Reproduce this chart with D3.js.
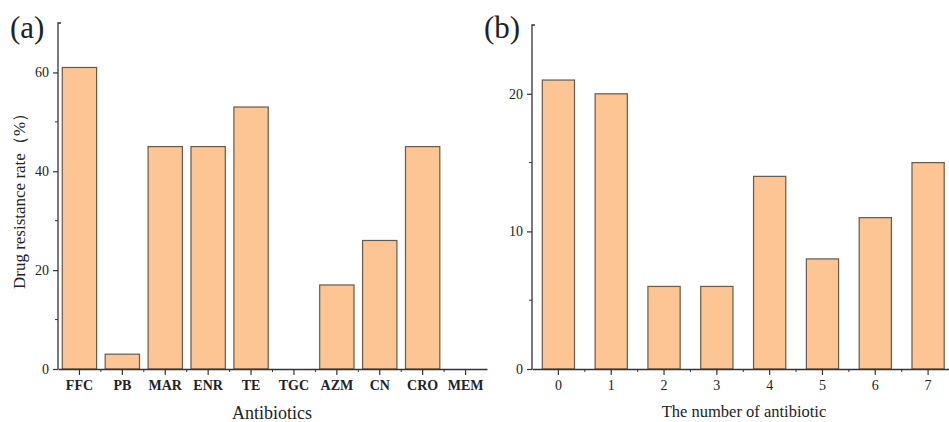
<!DOCTYPE html>
<html><head><meta charset="utf-8">
<script src="https://cdn.jsdelivr.net/npm/d3@7"></script>
<style>
body{margin:0;background:#fff;}
text{font-family:"Liberation Serif","Times New Roman",serif;fill:#222;}
</style></head>
<body>
<svg id="c" width="949" height="422"></svg>
<script>
const antibiotics = ["FFC","PB","MAR","ENR","TE","TGC","AZM","CN","CRO","MEM"];
const resistanceRate = [61,3,45,45,53,0,17,26,45,0];
const yTicksA = [0,20,40,60];
const yMinorA = [10,30,50];

const numberCats = ["0","1","2","3","4","5","6","7"];
const numberValues = [21,20,6,6,14,8,11,15];
const yTicksB = [0,10,20];
const yMinorB = [5,15];

const fillC = "#fdc593", strokeC = "#6a5848", axisC = "#333";
const svg = d3.select("#c");

function panel(opt){
  const g = svg.append("g");
  const x = d3.scaleBand().domain(opt.cats).range([opt.x0, opt.x1]).paddingInner(opt.pad).paddingOuter(opt.pad/2);
  const y = d3.scaleLinear().domain([0, opt.ymax]).range([opt.y0, opt.ytop]);
  g.selectAll("rect").data(opt.vals).enter().append("rect")
    .attr("x",(d,i)=>x(opt.cats[i]))
    .attr("y",d=>y(d))
    .attr("width",x.bandwidth())
    .attr("height",d=>y(0)-y(d))
    .attr("fill",fillC).attr("stroke",strokeC).attr("stroke-width",1.2)
    .style("display",d=>d>0?null:"none");
  const ya = g.append("g").attr("transform",`translate(${opt.x0},0)`)
    .call(d3.axisLeft(y).tickValues(opt.yt).tickSize(5).tickPadding(4).tickFormat(d3.format("d")));
  ya.select(".domain").attr("stroke",axisC).attr("stroke-width",1.3).attr("d",`M0,${opt.y0}V${opt.ytop}h3`);
  ya.selectAll(".tick line").attr("stroke",axisC).attr("stroke-width",1.2);
  ya.selectAll(".tick text").style("font-size","14px").attr("fill","#222");
  g.append("g").selectAll("line").data(opt.ym).enter().append("line")
    .attr("x1",opt.x0-3).attr("x2",opt.x0).attr("y1",d=>y(d)).attr("y2",d=>y(d))
    .attr("stroke",axisC).attr("stroke-width",1);
  const xa = g.append("g").attr("transform",`translate(0,${opt.y0})`)
    .call(d3.axisBottom(x).tickSize(6).tickPadding(5).tickSizeOuter(0));
  xa.select(".domain").attr("stroke",axisC).attr("stroke-width",1.3);
  xa.selectAll(".tick line").attr("stroke",axisC).attr("stroke-width",1.2);
  xa.selectAll(".tick text").style("font-size","14px").style("font-weight",opt.bold?"bold":"normal").attr("fill","#222");
  const step = x.step();
  const bounds = opt.cats.map((c,i)=>x(c)+x.bandwidth()/2 + step/2).slice(0, opt.cats.length-1);
  g.append("g").selectAll("line").data(bounds).enter().append("line")
    .attr("x1",d=>d).attr("x2",d=>d).attr("y1",opt.y0).attr("y2",opt.y0+3)
    .attr("stroke",axisC).attr("stroke-width",1);
  g.append("text").attr("x",opt.xtX).attr("y",opt.xtY).attr("text-anchor","middle")
    .style("font-size",opt.xtfs).text(opt.xtitle);
  if(opt.ytitle){
    g.append("text").attr("transform",`translate(${opt.ytX},${opt.ytY}) rotate(-90)`)
      .attr("text-anchor","middle").style("font-size","17px").text(opt.ytitle);
  }
  g.append("text").attr("x",opt.lx).attr("y",opt.ly).style("font-size","31px").text(opt.label);
}

panel({cats:antibiotics, vals:resistanceRate, yt:yTicksA, ym:yMinorA, ymax:70,
  x0:58, x1:487, y0:369, ytop:23, pad:0.2, bold:true,
  xtitle:"Antibiotics", xtX:272, xtY:419, xtfs:"18px",
  ytitle:"Drug resistance rate（%）", ytX:25, ytY:197,
  label:"(a)", lx:10, ly:38});

panel({cats:numberCats, vals:numberValues, yt:yTicksB, ym:yMinorB, ymax:25,
  x0:532, x1:954.5, y0:369, ytop:25, pad:0.39, bold:false,
  xtitle:"The number of antibiotic", xtX:744, xtY:417, xtfs:"16.5px",
  label:"(b)", lx:484, ly:38});
</script>
</body></html>
